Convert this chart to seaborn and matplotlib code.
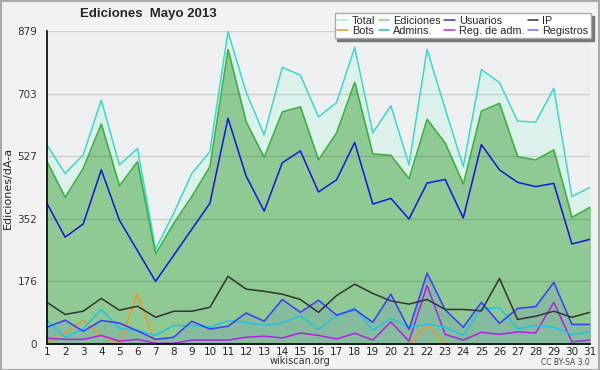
import numpy as np
import pandas as pd
import matplotlib
matplotlib.use("Agg")
import matplotlib.pyplot as plt
import seaborn as sns
from matplotlib.lines import Line2D
from matplotlib.patches import Rectangle

# data (ediciones por dia, mayo 2013)
days = list(range(1, 32))
total = [559, 479, 531, 685, 503, 549, 266, 367, 479, 540, 877, 708, 587, 777, 755,
         638, 678, 833, 593, 669, 503, 827, 660, 498, 771, 734, 626, 623, 718, 414, 440]
ediciones = [512, 412, 493, 618, 444, 512, 253, 339, 414, 498, 827, 624, 524, 652, 666,
             517, 593, 735, 534, 530, 464, 631, 564, 449, 654, 676, 526, 517, 545, 356, 384]
usuarios = [395, 300, 337, 489, 348, 262, 176, 249, 322, 395, 634, 472, 373, 509, 542,
            427, 461, 566, 393, 409, 351, 452, 462, 354, 560, 489, 454, 442, 451, 281, 294]
ip = [117, 83, 92, 128, 95, 106, 75, 92, 92, 103, 190, 154, 148, 140, 125,
      89, 136, 168, 142, 121, 112, 125, 97, 97, 93, 184, 69, 78, 92, 75, 89]
bots = [0, 32, 65, 24, 0, 140, 0, 0, 0, 0, 0, 0, 0, 0, 0,
        0, 0, 0, 0, 0, 0, 53, 0, 0, 0, 0, 0, 0, 0, 0, 0]
admins = [66, 18, 43, 97, 44, 38, 24, 52, 52, 47, 65, 61, 52, 59, 79,
          41, 79, 102, 38, 72, 47, 56, 47, 24, 99, 102, 43, 52, 47, 27, 34]
reg_adm = [16, 13, 13, 24, 8, 13, 2, 2, 11, 11, 11, 19, 22, 17, 31,
           24, 14, 30, 11, 62, 8, 164, 27, 11, 33, 27, 34, 31, 117, 6, 11]
registros = [47, 67, 36, 66, 59, 37, 13, 19, 64, 42, 50, 87, 64, 125, 89,
             123, 81, 97, 61, 140, 41, 199, 96, 47, 117, 58, 100, 105, 173, 55, 55]

ymax = 879
ytick_vals = [0, 176, 352, 527, 703, 879]

df = pd.DataFrame({"dia": days, "Total": total, "Ediciones": ediciones,
                   "Usuarios": usuarios, "IP": ip, "Bots": bots, "Admins.": admins,
                   "Reg. de adm.": reg_adm, "Registros": registros})

sns.set_style("white")
plt.rcParams["font.family"] = ["DejaVu Sans"]

fig = plt.figure(figsize=(6, 3.7), dpi=100, facecolor="#f2f2f2")
ax = fig.add_axes([0.0783, 0.0703, 0.905, 0.8459])
ax.set_facecolor("#eeeff1")

# filled areas
ax.fill_between(df["dia"], 0, df["Total"], color="#dcf1ec", zorder=1)
ax.fill_between(df["dia"], 0, df["Ediciones"], color="#8fca94", zorder=2)
ax.fill_between(df["dia"], 0, df["Registros"], color="#3344ff", alpha=0.1, zorder=3)

# grid lines on top of fills
for v in ytick_vals[1:]:
    ax.axhline(v, color="#000000", alpha=0.13, lw=1, zorder=4)

colors = {"Total": "#3fd8c8", "Ediciones": "#3cb043", "Usuarios": "#1515dd",
          "IP": "#333333", "Bots": "#f0962a", "Admins.": "#22c4e0",
          "Reg. de adm.": "#b020e8", "Registros": "#3c3cff"}
order = ["Total", "Ediciones", "Usuarios", "Bots", "Reg. de adm.", "Admins.", "Registros", "IP"]
for name in order:
    sns.lineplot(data=df, x="dia", y=name, color=colors[name], lw=1.1, ax=ax, zorder=5)

ax.set_xlim(1, 31)
ax.set_ylim(0, ymax)
ax.set_xticks(days)
ax.set_xticklabels([str(d) for d in days], fontsize=7.5)
ax.set_yticks(ytick_vals)
ax.set_yticks([v for v in np.linspace(0, ymax, 11) if round(v) not in ytick_vals], minor=True)
ax.set_yticklabels([str(v) for v in ytick_vals], fontsize=7.5, color="#333333")
ax.tick_params(axis="y", which="both", direction="out", length=5, width=1, color="black", pad=2)
ax.tick_params(axis="x", direction="out", length=2, width=1, color="black", pad=0.5)
for s in ["top", "right"]:
    ax.spines[s].set_visible(False)
for s in ["left", "bottom"]:
    ax.spines[s].set_color("black")
    ax.spines[s].set_linewidth(1.2)
    ax.spines[s].set_zorder(10)
ax.set_xlabel("")
ax.set_ylabel("Ediciones/dÃ-a", fontsize=8)
ax.yaxis.set_label_coords(-0.063, 0.5)

fig.text(0.247, 0.962, "Ediciones  Mayo 2013", fontsize=9.5, fontweight="bold",
         family="Liberation Sans", ha="center", va="center")
fig.text(0.5, 0.024, "wikiscan.org", fontsize=7, ha="center", va="center", color="#333333")
fig.text(0.983, 0.02, "CC BY-SA 3.0", fontsize=5.5, ha="right", va="center", color="#444444")

# legend
leg_colors = {"Total": "#a8e6e0", "Ediciones": "#88d088", "Usuarios": "#3030dd",
              "IP": "#333333", "Bots": "#f0962a", "Admins.": "#22c4e0",
              "Reg. de adm.": "#c030e0", "Registros": "#7070ff"}
leg_order = ["Total", "Bots", "Ediciones", "Admins.", "Usuarios", "Reg. de adm.", "IP", "Registros"]
handles = [Line2D([], [], color=leg_colors[n], lw=1.1) for n in leg_order]
leg = fig.legend(handles, leg_order, ncol=4, loc="upper right",
                 bbox_to_anchor=(0.985, 0.965), frameon=True,
                 prop={"family": "Liberation Sans", "size": 7.8},
                 fancybox=False, shadow={"color": "#777777", "alpha": 1},
                 handlelength=1.0, handletextpad=0.35, columnspacing=0.3,
                 labelspacing=0.0, borderpad=0.25, borderaxespad=0)
leg.get_frame().set_edgecolor("#aaaaaa")
leg.get_frame().set_linewidth(1)

# outer border
fig.patches.append(Rectangle((0.001, 0.001), 0.997, 0.997, transform=fig.transFigure,
                             fill=False, edgecolor="#aaaaaa", lw=1.5))

plt.savefig("out.png", dpi=100, facecolor=fig.get_facecolor())
